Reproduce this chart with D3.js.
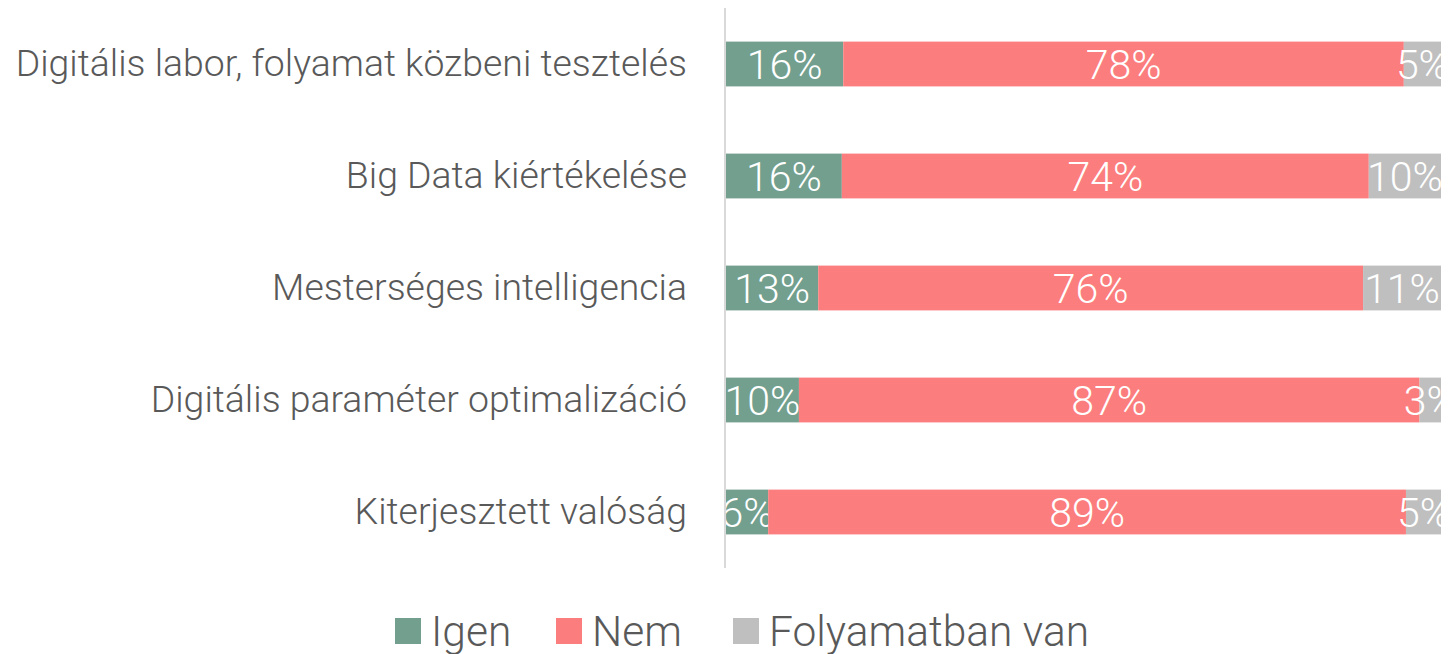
<!DOCTYPE html>
<html>
<head>
<meta charset="utf-8">
<script src="https://cdn.jsdelivr.net/npm/d3@7"></script>
<style>
  body { margin: 0; background: #fff; }
  svg { display: block; font-family: Roboto, sans-serif; }
</style>
</head>
<body>
<div id="chart"></div>
<script>
const categories = [
  "Digitális labor, folyamat közbeni tesztelés",
  "Big Data kiértékelése",
  "Mesterséges intelligencia",
  "Digitális paraméter optimalizáció",
  "Kiterjesztett valóság"
];
const series = ["Igen", "Nem", "Folyamatban van"];
const igen = [16.4, 16.2, 12.9, 10.2, 5.9];
const nem = [78.4, 73.7, 76.2, 86.8, 89.2];
const folyamatban = [5.2, 10.1, 10.9, 3.0, 4.9];
const colors = ["#739f8f", "#fb7d7d", "#bfbfbf"];

const width = 1448, height = 654;
const margin = { left: 726, right: 7, top: 8, bottom: 86 };

const rows = categories.map((c, i) => ({
  cat: c, "Igen": igen[i], "Nem": nem[i], "Folyamatban van": folyamatban[i]
}));

const stack = d3.stack().keys(series);
const stacked = stack(rows);

const x = d3.scaleLinear().domain([0, 100]).range([margin.left, width - margin.right]);
const y = d3.scaleBand().domain(categories)
  .range([margin.top, height - margin.bottom])
  .paddingInner(0.6).paddingOuter(0.3);
const color = d3.scaleOrdinal(series, colors);

const svg = d3.select("#chart").append("svg")
  .attr("width", width)
  .attr("height", height);

svg.append("defs").append("clipPath")
  .attr("id", "plot")
  .append("rect")
  .attr("x", margin.left)
  .attr("y", margin.top)
  .attr("width", width - margin.right - margin.left)
  .attr("height", height - margin.bottom - margin.top);

const layer = svg.append("g")
  .attr("clip-path", "url(#plot)")
  .selectAll("g")
  .data(stacked)
  .join("g")
  .attr("fill", d => color(d.key));

layer.selectAll("rect")
  .data(d => d)
  .join("rect")
  .attr("x", d => x(d[0]))
  .attr("y", d => y(d.data.cat))
  .attr("width", d => x(d[1]) - x(d[0]))
  .attr("height", y.bandwidth());

// value labels (clipped to the plot like the original)
layer.selectAll("text")
  .data(d => d)
  .join("text")
  .attr("x", d => (x(d[0]) + x(d[1])) / 2)
  .attr("y", d => y(d.data.cat) + y.bandwidth() / 2)
  .attr("dy", "0.36em")
  .attr("text-anchor", "middle")
  .attr("fill", "#fff")
  .style("font-size", "41px")
  .style("font-weight", 300)
  .text(d => Math.round(d[1] - d[0]) + "%");

// category axis
const yAxis = svg.append("g")
  .attr("transform", `translate(${margin.left - 1},0)`)
  .call(d3.axisLeft(y).tickSize(0).tickPadding(38));
yAxis.select(".domain")
  .attr("d", `M0,${margin.top}V${height - margin.bottom}`)
  .attr("stroke", "#d9d9d9")
  .attr("stroke-width", 2);
yAxis.selectAll("text")
  .attr("fill", "#595959")
  .style("font-family", "Roboto, sans-serif")
  .style("font-size", "37.4px")
  .style("font-weight", 300);

// legend
const legendX = [395, 556, 733];
const legend = svg.append("g")
  .selectAll("g")
  .data(series)
  .join("g")
  .attr("transform", (d, i) => `translate(${legendX[i]},${height - 36})`);
legend.append("rect")
  .attr("width", 26)
  .attr("height", 26)
  .attr("fill", d => color(d));
legend.append("text")
  .attr("x", 36)
  .attr("y", 13)
  .attr("dy", "0.36em")
  .attr("fill", "#595959")
  .style("font-size", "42.5px")
  .style("font-weight", 300)
  .text(d => d);
</script>
</body>
</html>
